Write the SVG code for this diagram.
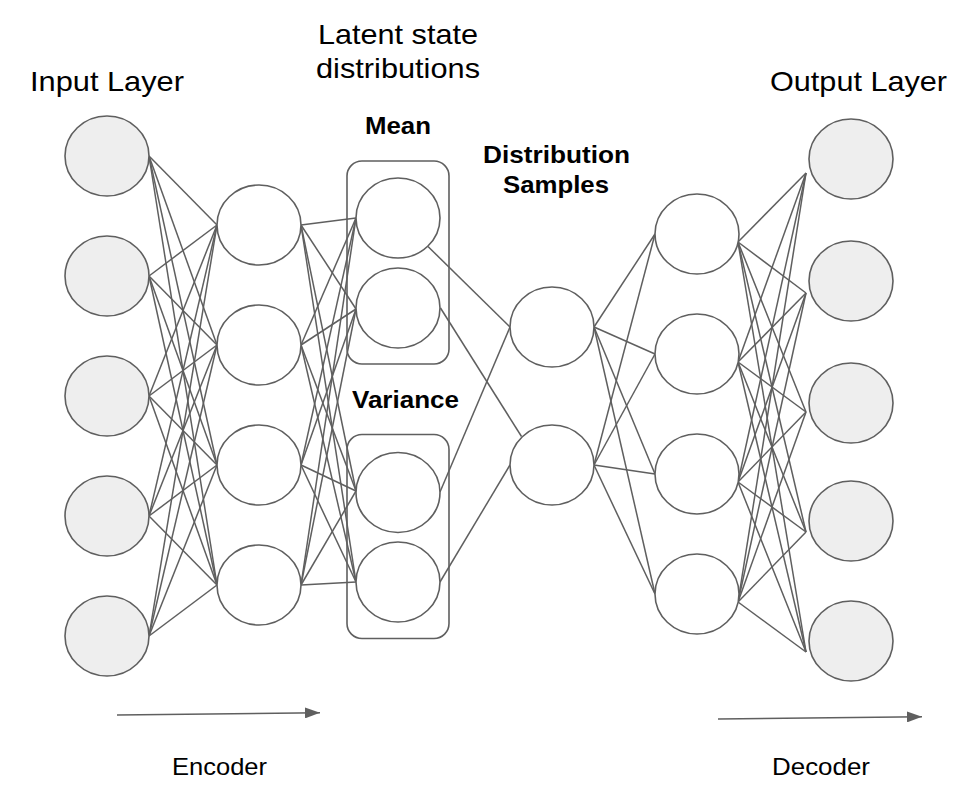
<svg xmlns="http://www.w3.org/2000/svg" width="972" height="801" viewBox="0 0 972 801">
<defs>
<style>
.in{fill:#eeeeee;stroke:#5f5f5f;stroke-width:1.6}
.hd{fill:#ffffff;stroke:#5f5f5f;stroke-width:1.6}
.box{fill:none;stroke:#5f5f5f;stroke-width:1.6}
.c line{stroke:#5f5f5f;stroke-width:1.5;fill:none}
.t{font-family:"Liberation Sans",Arial,sans-serif;fill:#000}
.r{font-size:28px}
.b{font-size:24px;font-weight:bold}
.s{font-size:24px}
</style>
<marker id="ah" viewBox="0 0 15 11" refX="15" refY="5.5" markerWidth="15" markerHeight="11" markerUnits="userSpaceOnUse" orient="auto">
<path d="M0,0 L15,5.5 L0,11 Z" fill="#5f5f5f"/>
</marker>
</defs>
<rect width="972" height="801" fill="#fff"/>

<g id="connectors" class="c">
<!-- input -> hidden encoder -->
<line x1="149" y1="156" x2="217" y2="225"/><line x1="149" y1="156" x2="217" y2="345"/><line x1="149" y1="156" x2="217" y2="465"/><line x1="149" y1="156" x2="217" y2="585"/>
<line x1="149" y1="276" x2="217" y2="225"/><line x1="149" y1="276" x2="217" y2="345"/><line x1="149" y1="276" x2="217" y2="465"/><line x1="149" y1="276" x2="217" y2="585"/>
<line x1="149" y1="396" x2="217" y2="225"/><line x1="149" y1="396" x2="217" y2="345"/><line x1="149" y1="396" x2="217" y2="465"/><line x1="149" y1="396" x2="217" y2="585"/>
<line x1="149" y1="516" x2="217" y2="225"/><line x1="149" y1="516" x2="217" y2="345"/><line x1="149" y1="516" x2="217" y2="465"/><line x1="149" y1="516" x2="217" y2="585"/>
<line x1="149" y1="636" x2="217" y2="225"/><line x1="149" y1="636" x2="217" y2="345"/><line x1="149" y1="636" x2="217" y2="465"/><line x1="149" y1="636" x2="217" y2="585"/>
<!-- hidden encoder -> mean/variance -->
<line x1="301" y1="225" x2="356" y2="218"/><line x1="301" y1="225" x2="356" y2="309"/><line x1="301" y1="225" x2="356" y2="491"/><line x1="301" y1="225" x2="356" y2="582"/>
<line x1="301" y1="345" x2="356" y2="218"/><line x1="301" y1="345" x2="356" y2="309"/><line x1="301" y1="345" x2="356" y2="491"/><line x1="301" y1="345" x2="356" y2="582"/>
<line x1="301" y1="465" x2="356" y2="218"/><line x1="301" y1="465" x2="356" y2="309"/><line x1="301" y1="465" x2="356" y2="491"/><line x1="301" y1="465" x2="356" y2="582"/>
<line x1="301" y1="585" x2="356" y2="218"/><line x1="301" y1="585" x2="356" y2="309"/><line x1="301" y1="585" x2="356" y2="491"/><line x1="301" y1="585" x2="356" y2="582"/>
<!-- mean/variance -> samples -->
<line x1="428" y1="246.5" x2="510" y2="327"/>
<line x1="440.5" y1="308" x2="521.5" y2="436.5"/>
<line x1="440" y1="492" x2="510" y2="327"/>
<line x1="440" y1="582" x2="510" y2="465"/>
<!-- samples -> hidden decoder -->
<line x1="594" y1="327" x2="655" y2="234"/><line x1="594" y1="327" x2="655" y2="354"/><line x1="594" y1="327" x2="655" y2="474"/><line x1="594" y1="327" x2="655" y2="594"/>
<line x1="594" y1="465" x2="655" y2="234"/><line x1="594" y1="465" x2="655" y2="354"/><line x1="594" y1="465" x2="655" y2="474"/><line x1="594" y1="465" x2="655" y2="594"/>
<!-- hidden decoder -> output -->
<line x1="738" y1="242" x2="806" y2="173"/><line x1="738" y1="242" x2="806" y2="293"/><line x1="738" y1="242" x2="806" y2="412"/><line x1="738" y1="242" x2="806" y2="532"/><line x1="738" y1="242" x2="806" y2="652"/>
<line x1="738" y1="362" x2="806" y2="173"/><line x1="738" y1="362" x2="806" y2="293"/><line x1="738" y1="362" x2="806" y2="412"/><line x1="738" y1="362" x2="806" y2="532"/><line x1="738" y1="362" x2="806" y2="652"/>
<line x1="738" y1="482" x2="806" y2="173"/><line x1="738" y1="482" x2="806" y2="293"/><line x1="738" y1="482" x2="806" y2="412"/><line x1="738" y1="482" x2="806" y2="532"/><line x1="738" y1="482" x2="806" y2="652"/>
<line x1="738" y1="602" x2="806" y2="173"/><line x1="738" y1="602" x2="806" y2="293"/><line x1="738" y1="602" x2="806" y2="412"/><line x1="738" y1="602" x2="806" y2="532"/><line x1="738" y1="602" x2="806" y2="652"/>
<!-- encoder / decoder arrows -->
<line x1="117" y1="715" x2="320" y2="712.7" marker-end="url(#ah)"/>
<line x1="718" y1="719" x2="922" y2="716.7" marker-end="url(#ah)"/>
</g>

<g id="input-layer">
<ellipse id="in1" class="in" cx="107" cy="156" rx="42" ry="40"/>
<ellipse id="in2" class="in" cx="107" cy="276" rx="42" ry="40"/>
<ellipse id="in3" class="in" cx="107" cy="396" rx="42" ry="40"/>
<ellipse id="in4" class="in" cx="107" cy="516" rx="42" ry="40"/>
<ellipse id="in5" class="in" cx="107" cy="636" rx="42" ry="40"/>
</g>
<g id="encoder-hidden">
<ellipse id="eh1" class="hd" cx="259" cy="225" rx="42" ry="40"/>
<ellipse id="eh2" class="hd" cx="259" cy="345" rx="42" ry="40"/>
<ellipse id="eh3" class="hd" cx="259" cy="465" rx="42" ry="40"/>
<ellipse id="eh4" class="hd" cx="259" cy="585" rx="42" ry="40"/>
</g>
<g id="mean">
<rect class="box" x="347" y="161" width="102" height="203" rx="15"/>
<ellipse id="mean1" class="hd" cx="398" cy="218" rx="42" ry="40"/>
<ellipse id="mean2" class="hd" cx="398" cy="308" rx="42" ry="40"/>
</g>
<g id="variance">
<rect class="box" x="347" y="434.5" width="102" height="204" rx="15"/>
<ellipse id="var1" class="hd" cx="398" cy="492.5" rx="42" ry="40"/>
<ellipse id="var2" class="hd" cx="398" cy="582" rx="42" ry="40"/>
</g>
<g id="samples">
<ellipse id="s1" class="hd" cx="552" cy="327" rx="42" ry="40"/>
<ellipse id="s2" class="hd" cx="552" cy="465" rx="42" ry="40"/>
</g>
<g id="decoder-hidden">
<ellipse id="dh1" class="hd" cx="697" cy="234" rx="42" ry="40"/>
<ellipse id="dh2" class="hd" cx="697" cy="354" rx="42" ry="40"/>
<ellipse id="dh3" class="hd" cx="697" cy="474" rx="42" ry="40"/>
<ellipse id="dh4" class="hd" cx="697" cy="594" rx="42" ry="40"/>
</g>
<g id="output-layer">
<ellipse id="out1" class="in" cx="851" cy="159" rx="42" ry="40"/>
<ellipse id="out2" class="in" cx="851" cy="281" rx="42" ry="40"/>
<ellipse id="out3" class="in" cx="851" cy="403" rx="42" ry="40"/>
<ellipse id="out4" class="in" cx="851" cy="521" rx="42" ry="40"/>
<ellipse id="out5" class="in" cx="851" cy="641" rx="42" ry="40"/>
</g>

<g id="labels">
<text class="t r" x="30" y="91" textLength="154" lengthAdjust="spacingAndGlyphs">Input Layer</text>
<text class="t r" x="770" y="91" textLength="177" lengthAdjust="spacingAndGlyphs">Output Layer</text>
<text class="t r" x="318" y="44" textLength="160" lengthAdjust="spacingAndGlyphs">Latent state</text>
<text class="t r" x="316" y="78" textLength="164" lengthAdjust="spacingAndGlyphs">distributions</text>
<text class="t b" x="365" y="134" textLength="66" lengthAdjust="spacingAndGlyphs">Mean</text>
<text class="t b" x="352" y="408" textLength="107" lengthAdjust="spacingAndGlyphs">Variance</text>
<text class="t b" x="483" y="163" textLength="147" lengthAdjust="spacingAndGlyphs">Distribution</text>
<text class="t b" x="503" y="193" textLength="106" lengthAdjust="spacingAndGlyphs">Samples</text>
<text class="t s" x="172" y="775" textLength="95" lengthAdjust="spacingAndGlyphs">Encoder</text>
<text class="t s" x="772" y="775" textLength="98" lengthAdjust="spacingAndGlyphs">Decoder</text>
</g>
</svg>
